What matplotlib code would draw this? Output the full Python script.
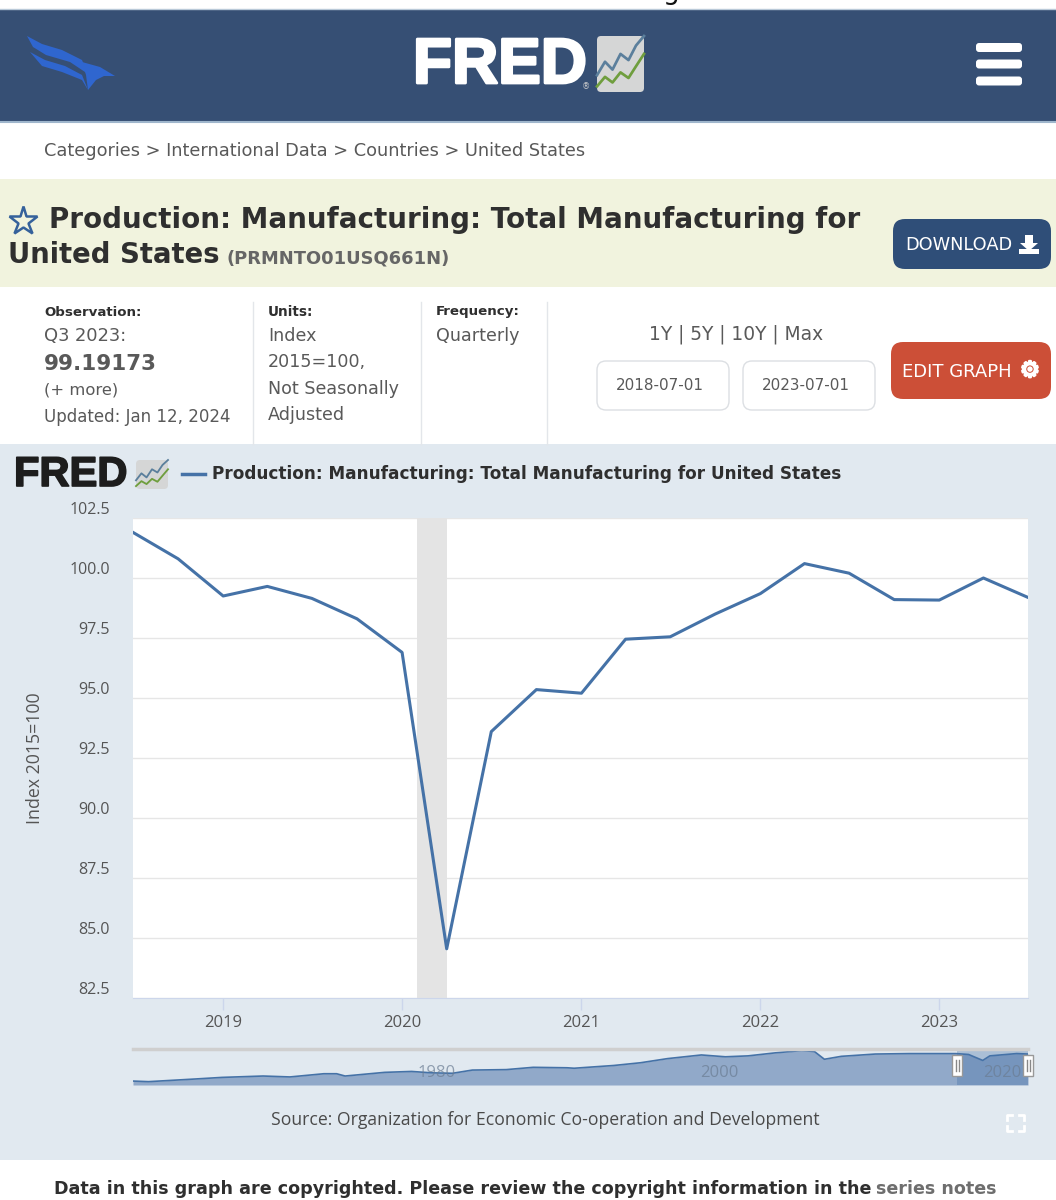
import matplotlib
matplotlib.use('Agg')
import matplotlib.pyplot as plt
import matplotlib.patheffects as pe
import pandas as pd
from matplotlib.patches import FancyBboxPatch, Polygon, Rectangle

# main series, quarterly
dates = pd.date_range('2018-07-01', periods=21, freq='QS')
values = [101.9, 100.8, 99.25, 99.65, 99.15, 98.3, 96.9, 84.55, 93.6, 95.35, 95.2,
          97.45, 97.55, 98.5, 99.35, 100.6, 100.2, 99.1, 99.08, 100.0, 99.19]
recession = ['2020-02-01', '2020-04-01']
y_ticks = [82.5, 85.0, 87.5, 90.0, 92.5, 95.0, 97.5, 100.0, 102.5]
x_ticks = ['2019-01-01', '2020-01-01', '2021-01-01', '2022-01-01', '2023-01-01']
x_labels = ['2019', '2020', '2021', '2022', '2023']

# navigator series, whole history (read roughly)
nav_years = [1960.2, 1961.3, 1964.6, 1966.5, 1969.4, 1971.3, 1973.7, 1974.6, 1975.2, 1978.0,
             1979.9, 1981.3, 1982.8, 1984.2, 1986.6, 1988.5, 1990.9, 1991.4, 1994.2, 1996.1,
             1998.0, 2000.4, 2002.1, 2003.7, 2005.6, 2007.5, 2008.4, 2009.1, 2010.3, 2012.7,
             2015.1, 2018.4, 2019.3, 2020.3, 2020.8, 2022.7, 2023.5]
nav_values = [40, 38.7, 44.5, 48, 51, 49, 56, 56, 51, 59, 61, 58, 57, 64, 65, 70, 69, 68, 74, 80,
              89, 97, 93, 95, 101.5, 106.5, 104.4, 87.6, 94, 99, 100, 100, 98, 85, 95, 100, 99]
nav_labels = [1980, 2000, 2020]

W, H = 1056, 1200
BLUE = '#4572a7'
DARK = '#2f2f2f'
GREY = '#595959'

fig = plt.figure(figsize=(W / 100, H / 100), dpi=100, facecolor='white')


def pixel_axes(x0, y0, x1, y1, **kw):
    return fig.add_axes([x0 / W, 1 - y1 / H, (x1 - x0) / W, (y1 - y0) / H], **kw)


# page furniture lives on one big axes in pixel coordinates
pg = pixel_axes(0, 0, W, H, zorder=0)
pg.set_xlim(0, W)
pg.set_ylim(H, 0)
pg.axis('off')


def band(y0, y1, color):
    pg.add_patch(Rectangle((0, y0), W, y1 - y0, fc=color, ec='none'))


def label(x, y, s, size=10, color=GREY, weight='normal', ha='left', va='center', **kw):
    return pg.text(x, y, s, fontsize=size, color=color, fontweight=weight, ha=ha, va=va, **kw)


def button(x0, y0, x1, y1, fc, ec='none', r=12):
    pg.add_patch(FancyBboxPatch((x0 + r, y0 + r), x1 - x0 - 2 * r, y1 - y0 - 2 * r,
                                boxstyle=f'round,pad={r},rounding_size={r}', fc=fc, ec=ec, lw=1))


def logo_icon(x0, y0, w, h):
    # small grey tile with the two zigzag lines
    pg.add_patch(FancyBboxPatch((x0 + 2, y0 + 2), w - 4, h - 4, boxstyle='round,pad=2,rounding_size=4',
                                fc='#d5d6d6', ec='none'))
    xs = [x0 + w * f for f in (0, .17, .33, .5, .67, .83, 1)]
    pg.plot(xs, [y0 + h * f for f in (.7, .46, .6, .32, .43, .17, 0)], color='#5b7f9c', lw=w / 24)
    pg.plot(xs, [y0 + h * f for f in (.9, .73, .83, .65, .75, .54, .32)], color='#6f9e3e', lw=w / 24)


# top strip with the cut off letter
pg.text(662, -8, 'g', fontsize=19, color='#111111', ha='left', va='center', clip_on=True)

# header bar
band(9, 122, '#364f74')
pg.plot([0, W], [122, 122], color='#9fb6cc', lw=1.5)
pg.plot([0, W], [9, 9], color='#b9c9d8', lw=1)
for wing in ([(27, 36), (42, 44), (62, 50), (82, 60), (88, 74), (70, 62), (46, 55), (33, 47)],
             [(30, 52), (45, 60), (65, 66), (82, 75), (88, 90), (82, 80), (62, 72), (42, 66)],
             [(82, 62), (100, 67), (115, 76), (104, 76), (96, 80), (88, 90), (86, 75)]):
    pg.add_patch(Polygon(wing, fc='#2f66cf', ec='none'))
label(413, 66, 'FRED', size=46, color='white', weight='bold', family='Liberation Sans',
      path_effects=[pe.withStroke(linewidth=2, foreground='white')])
label(582, 87, '®', size=6, color='#cccccc')
logo_icon(597, 36, 47, 56)
for y in (47.5, 64, 81):
    button(976, y - 4.5, 1022, y + 4.5, 'white', r=3)

# breadcrumb
label(44, 151, 'Categories > International Data > Countries > United States', size=12.75)

# title band
band(179, 287, '#f1f3de')
pg.plot([23], [221], marker='*', ms=21, mfc='none', mec='#35619b', mew=1.8)
label(49, 220, 'Production: Manufacturing: Total Manufacturing for', size=20, color=DARK, weight='bold')
label(8, 255, 'United States', size=19.8, color=DARK, weight='bold')
label(226, 259, '(PRMNTO01USQ661N)', size=12.9, color='#666666', weight='bold')
button(893, 219, 1051, 269, '#2f4e78')
label(905, 245, 'DOWNLOAD', size=12.8, color='white')
pg.add_patch(Polygon([(1025, 235), (1033, 235), (1033, 243), (1038, 243), (1029, 251), (1020, 243), (1025, 243)],
                     fc='white', ec='none'))
pg.add_patch(Rectangle((1019, 249), 20, 5, fc='white', ec='none'))

# metadata row
label(44, 312, 'Observation:', size=9.6, color=DARK, weight='bold')
label(44, 336, 'Q3 2023:', size=12.9)
label(44, 364, '99.19173', size=15.5, color=GREY, weight='bold')
label(44, 390, '(+ more)', size=11.8)
label(44, 417, 'Updated: Jan 12, 2024', size=11.95)
label(268, 312, 'Units:', size=9.8, color=DARK, weight='bold')
label(268, 336, 'Index', size=12.6)
label(268, 362, '2015=100,', size=12.6)
label(268, 389, 'Not Seasonally', size=12.6)
label(268, 415, 'Adjusted', size=12.6)
label(436, 312, 'Frequency:', size=9.6, color=DARK, weight='bold')
label(436, 336, 'Quarterly', size=12.6)
for x in (253, 421, 547):
    pg.plot([x, x], [302, 444], color='#e3e6ea', lw=1)
label(736, 334, '1Y | 5Y | 10Y | Max', size=13.4, ha='center')
button(597, 361, 729, 410, 'white', ec='#dcdfe3', r=9)
button(743, 361, 875, 410, 'white', ec='#dcdfe3', r=9)
label(660, 386, '2018-07-01', size=10.9, ha='center')
label(806, 386, '2023-07-01', size=10.9, ha='center')
button(891, 342, 1051, 399, '#cc4f37')
label(902, 372, 'EDIT GRAPH', size=13, color='white')
label(1030, 371, '⚙', size=16, color='white', ha='center',
      path_effects=[pe.withStroke(linewidth=1.5, foreground='white')])

# chart area
band(444, 1160, '#e1e9f0')
label(14, 475, 'FRED', size=30, color='#1d1d1d', weight='bold', family='Liberation Sans',
      path_effects=[pe.withStroke(linewidth=1.2, foreground='#1d1d1d')])
logo_icon(136, 460, 32, 29)
pg.plot([182, 205], [474, 474], color=BLUE, lw=2.5)
label(212, 474, 'Production: Manufacturing: Total Manufacturing for United States', size=12.2, color=DARK, weight='bold')
label(545, 1120, 'Source: Organization for Economic Co-operation and Development', size=12.7, color='#4a4a4a',
      ha='center', family='Open Sans')
for xs, ys in (([1007, 1007, 1012], [1120, 1115, 1115]), ([1019, 1024, 1024], [1115, 1115, 1120]),
               ([1007, 1007, 1012], [1126, 1131, 1131]), ([1019, 1024, 1024], [1131, 1131, 1126])):
    pg.plot(xs, ys, color='white', lw=2)

# bottom note
label(54, 1189, 'Data in this graph are copyrighted. Please review the copyright information in the', size=12.6,
      color=DARK, weight='bold')
label(876, 1189, 'series notes', size=12.6, color='#6e6e6e', weight='bold')

# main chart
ax = pixel_axes(133, 518, 1028, 998, zorder=2, facecolor='white')
ax.axvspan(pd.Timestamp(recession[0]), pd.Timestamp(recession[1]), color='#e4e4e4', lw=0, zorder=1)
ax.plot(dates, values, color=BLUE, lw=2.2, zorder=3, solid_joinstyle='round')
ax.set_xlim(dates[0], dates[-1])
ax.set_ylim(82.5, 102.5)
ax.set_yticks(y_ticks)
ax.set_yticklabels([f'{v:.1f}' for v in y_ticks])
ax.set_xticks([pd.Timestamp(d) for d in x_ticks])
ax.set_xticklabels(x_labels)
ax.grid(axis='y', color='#e6e6e6', lw=1, zorder=0)
ax.set_axisbelow(True)
for s in ('top', 'right', 'left'):
    ax.spines[s].set_visible(False)
ax.spines['bottom'].set_color('#ccd6eb')
ax.tick_params(axis='y', length=0, pad=16.5, labelsize=11.5, labelcolor='#555555')
ax.tick_params(axis='x', length=8.5, width=1, color='#ccd6eb', pad=3.5, labelsize=12, labelcolor='#555555')
for t in ax.get_xticklabels() + ax.get_yticklabels():
    t.set_family('Open Sans')
for t in ax.get_yticklabels():
    t.set_va('bottom')
ax.set_ylabel('Index 2015=100', fontsize=12.8, color='#555555', family='Open Sans')
ax.yaxis.set_label_coords((44 - 133) / 895, 0.5)

# navigator under the chart
nav = pixel_axes(133, 1049, 1028, 1085, zorder=2, facecolor='none')
nav.set_xlim(1960.2, 2023.5)
nav.set_ylim(31.4, 110)
nav.axis('off')
nav.fill_between(nav_years, nav_values, 31.4, color='#91a9c9', lw=0, zorder=1)
nav.axvspan(2018.5, 2023.5, color='#4572a7', alpha=0.35, lw=0, zorder=2)
nav.plot(nav_years, nav_values, color=BLUE, lw=1.2, zorder=3)
nav.axhline(110, color='#cfcfcf', lw=2.5, zorder=3, clip_on=False)
for yr in nav_labels:
    nav.text(yr + 0.3, 57, str(yr), fontsize=12, color='#6b7d93', alpha=0.7, family='Open Sans',
             va='center', ha='left', zorder=4)

# navigator handles sit on top of everything
top = pixel_axes(0, 0, W, H, zorder=3, facecolor='none')
top.set_xlim(0, W)
top.set_ylim(H, 0)
top.axis('off')
for hx in (957, 1028):
    top.add_patch(Rectangle((hx - 5, 1055), 10, 21, fc='white', ec='#999999', lw=1))
    top.plot([hx - 1.5, hx - 1.5], [1060, 1071], color='#888888', lw=1)
    top.plot([hx + 1.5, hx + 1.5], [1060, 1071], color='#888888', lw=1)

fig.savefig('out.png', dpi=100, facecolor=fig.get_facecolor())
